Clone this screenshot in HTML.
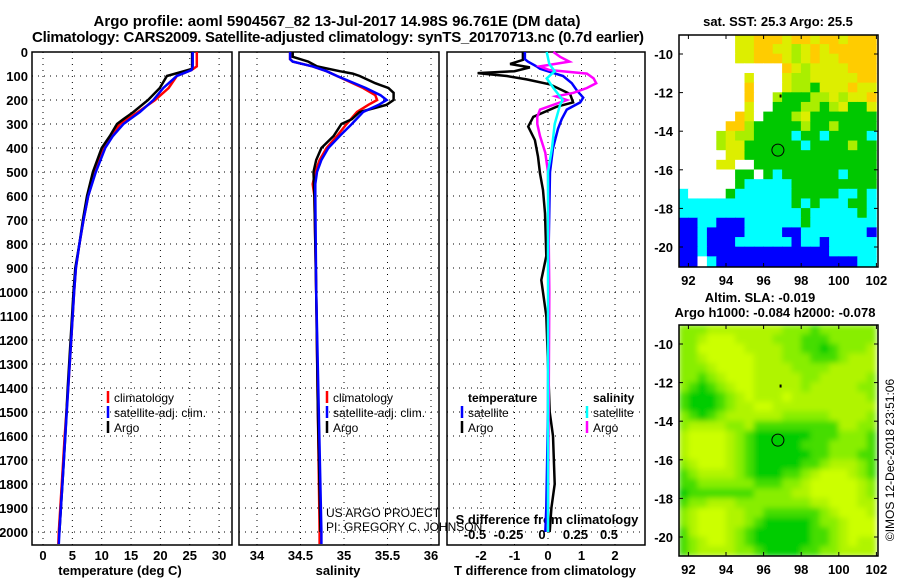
<!DOCTYPE html>
<html><head><meta charset="utf-8"><style>
body{margin:0;background:#fff;}
svg{display:block;font-family:"Liberation Sans",sans-serif;}
.b{font-weight:bold;font-size:13px;}
</style></head><body>
<svg id="c" width="900" height="580" viewBox="0 0 900 580">
<text x="337" y="26" text-anchor="middle" font-weight="bold" font-size="15">Argo profile: aoml 5904567_82 13-Jul-2017 14.98S 96.761E (DM data)</text>
<text x="338" y="42" text-anchor="middle" font-weight="bold" font-size="15" textLength="612">Climatology: CARS2009. Satellite-adjusted climatology: synTS_20170713.nc (0.7d earlier)</text>
<text x="778" y="26" text-anchor="middle" font-weight="bold" font-size="13">sat. SST: 25.3 Argo: 25.5</text>
<text x="760" y="302" text-anchor="middle" font-weight="bold" font-size="13">Altim. SLA: -0.019</text>
<text x="775" y="317" text-anchor="middle" font-weight="bold" font-size="13">Argo h1000: -0.084 h2000: -0.078</text>
<text transform="translate(894,460) rotate(-90)" text-anchor="middle" font-size="12">©IMOS 12-Dec-2018 23:51:06</text>
<text x="120" y="575" text-anchor="middle" class="b">temperature (deg C)</text>
<text x="338" y="575" text-anchor="middle" class="b">salinity</text>
<text x="545" y="575" text-anchor="middle" class="b">T difference from climatology</text>
<text x="547" y="524" text-anchor="middle" class="b">S difference from climatology</text>
<text x="326" y="517" font-size="12">US ARGO PROJECT</text>
<text x="326" y="531" font-size="12">PI: GREGORY C. JOHNSON</text>
</svg>
<script>
var NS='http://www.w3.org/2000/svg';
var svg=document.getElementById('c');
// ---- data ----
var depthTicks=[0,100,200,300,400,500,600,700,800,900,1000,1100,1200,1300,1400,1500,1600,1700,1800,1900,2000];
var tempTicks=[0,5,10,15,20,25,30];
var salTicks=[34,34.5,35,35.5,36];
var salTickLabels=['34','34.5','35','35.5','36'];
var tdiffTicks=[-2,-1,0,1,2];
var sdiffTicks=[-0.5,-0.25,0,0.25,0.5];
var sdiffTickLabels=['-0.5','-0.25','0','0.25','0.5'];
var lonTicks=[92,94,96,98,100,102];
var latTicks=[-10,-12,-14,-16,-18,-20];

var tClimDepth=[0,60,75,100,150,200,250,300,350,400,500,600,700,800,900,1000,1200,1400,1600,1800,2000,2050];
var tClim=[26.2,26.2,25.3,22.8,21.4,19.1,16.2,13.1,11.7,10.3,8.9,7.7,6.9,6.2,5.6,5.3,4.8,4.3,3.7,3.2,2.7,2.6];
var tSat=[25.5,25.5,25.3,22.8,20.5,18.8,16.5,13.7,11.9,10.6,9.0,7.7,6.9,6.2,5.6,5.3,4.8,4.3,3.8,3.3,2.8,2.7];
var tArgoDepth=[0,70,80,100,150,200,250,280,300,350,400,500,600,700,800,900,1000,1200,1400,1600,1800,2000];
var tArgo=[25.4,25.4,24.0,21.1,19.9,17.9,15.4,13.7,12.6,11.4,10.0,8.5,7.5,6.8,6.2,5.5,5.2,4.7,4.2,3.8,3.3,2.8];

var sClimDepth=[0,30,40,60,80,100,150,180,200,220,250,300,350,400,450,500,550,600,1000,1500,2000,2050];
var sClim=[34.38,34.38,34.41,34.64,34.80,34.92,35.22,35.36,35.38,35.28,35.15,35.03,34.92,34.80,34.72,34.67,34.64,34.66,34.68,34.70,34.72,34.72];
var sSat=[34.38,34.38,34.41,34.64,34.80,34.92,35.25,35.42,35.49,35.40,35.22,35.09,34.95,34.82,34.74,34.69,34.67,34.67,34.68,34.71,34.74,34.74];
var sArgoDepth=[0,20,40,60,80,90,100,130,150,170,200,220,250,280,300,350,400,450,500,600,1000,1500,2000];
var sArgo=[34.41,34.41,34.59,34.69,34.95,35.10,35.18,35.36,35.51,35.57,35.57,35.49,35.18,35.09,34.97,34.88,34.74,34.68,34.65,34.66,34.68,34.70,34.73];

var tdArgoDepth=[0,33,50,64,80,88,100,114,135,175,210,228,270,311,367,436,506,575,672,850,950,1100,1500,1600,1800,1900,2000];
var tdArgo=[-0.75,-0.75,-1.13,-0.54,-1.0,-2.1,-1.23,-0.64,0.06,0.66,0.75,0.26,-0.44,-0.59,-0.39,-0.3,-0.24,-0.15,-0.09,-0.05,-0.2,-0.05,0.05,0.15,0.2,0.1,0.05];
var tdSatDepth=[0,30,40,60,70,100,130,160,190,210,240,280,320,400,500,800,1500,1900,2000];
var tdSat=[-0.69,-0.69,-0.6,-0.34,-0.24,0.45,0.71,0.86,1.05,0.96,0.56,0.41,0.3,0.15,0.06,0.02,0.0,-0.05,-0.08];
var sdArgoDepth=[0,20,40,60,75,90,110,130,150,170,185,200,220,240,270,300,350,420,500,1000,2000];
var sdArgo=[0.04,0.09,0.16,-0.06,0.01,0.29,0.34,0.36,0.29,0.19,0.06,0.14,0.04,-0.06,-0.08,-0.08,-0.06,-0.02,0.0,0.01,0.0];
var sdSatDepth=[0,50,80,110,150,200,220,300,400,500,1000,2000];
var sdSat=[-0.01,0.01,0.05,-0.01,0.04,0.11,0.09,0.05,0.03,0.0,0.0,0.0];

var sstRows=[
"WWWWWWYYOOOYOOYOOYOOO","WWWWWWYYOOYYLYOYOOOOO","WWWWWWYYOOOYLYOYYOOOO","WWWWWWWWWWWOYLYYYYOOO",
"WWWWWWWYWWWYLLYYYYYOO","WWWWWWWOWWWYLLGYYYOYY","WWWWWWWOWWLGGGLLYLYYO","WWWWWWWYWWGGGLLGLYGGY",
"WWWWWWOYWGGGLYGGGGGGG","WWWWWOOLGGGGGLGGLGGGG","WWWWLYLLGGGGCGGCGGGGC","WWWWLYYGGGGGGCGGGGLGG",
"WWWWWYYGGGGGGGGGGGGGG","WWWWYYWWGGGGGGGGGGGGG","WWWWWWGGWGCGGGGGGCGGG","WWWWWWGCCCCCGGGGGGGGG",
"CWWWWGCCCCCCGGGGGCCGC","CCCCCCCCCCCCGCGCCCGGC","CCCCCCCCCCCCCGCCCCCGC","BBCCBBBCCCCCCGCCCCCCC",
"BBCBBBBCCCCBBCCCCCCCB","BBCBBBCCCCCCBCCBCCCCC","BBCBBBBBBBBBBBBBCCCCC","BBWCBBBBBBBBBBBBBBBCC"];
var slaRows=[
"222333333332221222222","223444333322211122222","224444433332211012223","223444443332221112333",
"222344443333222233333","221234443333322333332","210123443333323333322","100012343334333333332",
"100012334433333333333","210123333332222233332","233332231111111113322","344443210000001112221",
"344443210000011122221","344443210000001122211","234443210000011233321","123333210001123444321",
"112222221112234444432","011111112222334444432","122333222222223344433","234443322111111234443",
"234443321000001223444","134443210000001123444","123443210000001123433","123333221000011223333"];
var floatLon=96.761, floatLat=-14.98;

// ---- scales ----
function yD(d){return 52+0.24*d;}
function xT(t){return 43+5.87*t;}
function xS(s){return 257+87*(s-34);}
function xTD(t){return 548+33.5*t;}
function xSD(s){return 548+134*s;}
function xLon(l){return 679+18.8*(l-91.5);}
function yLat1(l){return 54+19.3*(-10-l);}
function yLat2(l){return 344+19.3*(-10-l);}

function el(tag,a,parent){var e=document.createElementNS(NS,tag);for(var k in a)e.setAttribute(k,a[k]);(parent||svg).appendChild(e);return e;}
function txt(x,y,s,anchor,parent){var t=el('text',{x:x,y:y,'text-anchor':anchor,'class':'b'},parent);t.textContent=s;return t;}

function panel(name,x0,x1,xs,vt){
  var g=el('g',{});
  
  
  var f=el('rect',{x:x0,y:52,width:x1-x0,height:493,fill:'none',stroke:'#000','stroke-width':1.5},g);
  
  
  depthTicks.forEach(function(d){
    var l=el('line',{x1:x0,x2:x1,y1:yD(d),y2:yD(d),stroke:'#000','stroke-dasharray':'1,5'},g);
    
    
  });
  vt.forEach(function(v){
    var l=el('line',{x1:xs(v),x2:xs(v),y1:52,y2:545,stroke:'#000','stroke-dasharray':'1,5'},g);
    
    
  });
  return g;
}
function series(g,name,depths,vals,xs,color,w){
  var p=depths.map(function(d,i){return xs(vals[i]).toFixed(1)+','+yD(d).toFixed(1);}).join(' ');
  var l=el('polyline',{points:p,fill:'none',stroke:color,'stroke-width':w||2.5},g);
  
  
}
function legend(g,x,y,color,label,name){
  var m=el('line',{x1:x-6,x2:x-6,y1:y-11,y2:y+1,stroke:color,'stroke-width':2.5},g);
  
  
  var t=el('text',{x:x,y:y,'font-size':12},g);t.textContent=label;
  
  
}

depthTicks.forEach(function(d){
  var t=txt(28,yD(d)+5,String(d),'end');
  
  
});

var g1=panel('temperature-panel',32,232,xT,tempTicks);
tempTicks.forEach(function(v){var t=txt(xT(v),560,String(v),'middle');
  
  });
series(g1,'temperature-climatology-line',tClimDepth,tClim,xT,'#f00');
series(g1,'temperature-argo-line',tArgoDepth,tArgo,xT,'#000');
series(g1,'temperature-satellite-line',tClimDepth,tSat,xT,'#00f');
legend(g1,114,402,'#f00','climatology','legend-climatology');
legend(g1,114,417,'#00f','satellite-adj. clim.','legend-satellite-adj');
legend(g1,114,432,'#000','Argo','legend-argo');

var g2=panel('salinity-panel',239,439,xS,salTicks);
salTicks.forEach(function(v,i){var t=txt(xS(v),560,salTickLabels[i],'middle');
  
  });
series(g2,'salinity-climatology-line',sClimDepth,sClim,xS,'#f00');
series(g2,'salinity-argo-line',sArgoDepth,sArgo,xS,'#000');
series(g2,'salinity-satellite-line',sClimDepth,sSat,xS,'#00f');
legend(g2,333,402,'#f00','climatology','legend-s-climatology');
legend(g2,333,417,'#00f','satellite-adj. clim.','legend-s-satellite-adj');
legend(g2,333,432,'#000','Argo','legend-s-argo');

var g3=panel('difference-panel',447,645,xSD,sdiffTicks);
tdiffTicks.forEach(function(v){var t=txt(xTD(v),560,String(v),'middle');
  
  });
sdiffTicks.forEach(function(v,i){var t=txt(xSD(v)-6,539,sdiffTickLabels[i],'middle');
  
  });
series(g3,'t-diff-argo-line',tdArgoDepth,tdArgo,xTD,'#000');
series(g3,'t-diff-satellite-line',tdSatDepth,tdSat,xTD,'#00f');
series(g3,'s-diff-argo-line',sdArgoDepth,sdArgo,xSD,'#f0f');
series(g3,'s-diff-satellite-line',sdSatDepth,sdSat,xSD,'#0ff');
var tl=el('text',{x:468,y:402,'font-size':12,'font-weight':'bold'},g3);tl.textContent='temperature';


var sl=el('text',{x:593,y:402,'font-size':12,'font-weight':'bold'},g3);sl.textContent='salinity';


legend(g3,468,417,'#00f','satellite','legend-t-satellite');
legend(g3,468,432,'#000','Argo','legend-t-argo');
legend(g3,593,417,'#0ff','satellite','legend-s-satellite');
legend(g3,593,432,'#f0f','Argo','legend-s-argo-diff');

var sstCol={O:'#ffcc00',Y:'#ddee00',L:'#aaee00',G:'#00c800',C:'#00ffff',B:'#0000ff',W:'#ffffff'};
var slaCol=['#00cc00','#44dd00','#88ee00','#b0f400','#ccff00'];
var defs=el('defs',{});
var cp1=el('clipPath',{id:'clip1'},defs);el('rect',{x:679,y:35,width:199,height:232},cp1);
var cp2=el('clipPath',{id:'clip2'},defs);el('rect',{x:679,y:325,width:199,height:231},cp2);
var fl=el('filter',{id:'blur',x:'-10%',y:'-10%',width:'120%',height:'120%'},defs);el('feGaussianBlur',{stdDeviation:3},fl);

function map(name,rows,colorOf,yLat,top,bottom,clip,filt){
  var g=el('g',{'clip-path':'url(#'+clip+')'});
  
  
  var cg=el('g',filt?{filter:'url(#blur)'}:{},g);
  rows.forEach(function(r,i){
    var lat0=-9-0.5*i;
    for(var j=0;j<r.length;j++){
      var lon0=91.5+0.5*j;
      var x=xLon(lon0),y=yLat(lat0);
      var c=el('rect',{x:x-0.3,y:y-0.3,width:xLon(lon0+0.5)-x+0.6,height:yLat(lat0-0.5)-y+0.6,fill:colorOf(r[j])},cg);
      
      
    }
  });
  var f=el('rect',{x:679,y:top,width:199,height:bottom-top,fill:'none',stroke:'#000','stroke-width':1.5});
  
  
  lonTicks.forEach(function(l){
    el('line',{x1:xLon(l),x2:xLon(l),y1:top,y2:top+4,stroke:'#000'});
    el('line',{x1:xLon(l),x2:xLon(l),y1:bottom,y2:bottom-4,stroke:'#000'});
    var t=txt(xLon(l),bottom+18,String(l),'middle');
    
    
  });
  latTicks.forEach(function(l){
    el('line',{x1:679,x2:683,y1:yLat(l),y2:yLat(l),stroke:'#000'});
    el('line',{x1:878,x2:874,y1:yLat(l),y2:yLat(l),stroke:'#000'});
    var t=txt(673,yLat(l)+5,String(l),'end');
    
    
  });
  var c=el('circle',{cx:xLon(floatLon),cy:yLat(floatLat),r:6,fill:'none',stroke:'#000','stroke-width':1});
  
  
  el('rect',{x:xLon(96.85),y:yLat(-12.1),width:2,height:3,fill:'#000'});
}
map('sst-map',sstRows,function(k){return sstCol[k];},yLat1,35,267,'clip1',false);
map('sla-map',slaRows,function(k){return slaCol[+k];},yLat2,325,556,'clip2',true);
</script>
</body></html>
